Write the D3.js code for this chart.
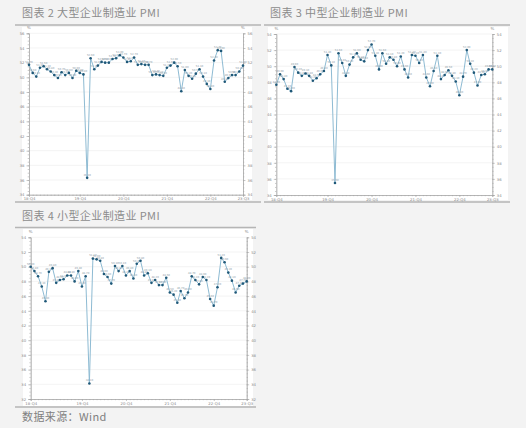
<!DOCTYPE html>
<html>
<head>
<meta charset="utf-8">
<script src="https://cdn.jsdelivr.net/npm/d3@7"></script>
<style>
body { margin: 0; background: #f3f3f3; }
svg { display: block; }
</style>
</head>
<body>
<svg id="chart" width="526" height="428"></svg>
<script>
// months from 2018-10 to 2023-09
var startMonth = new Date(2018, 9, 1),
    endMonth = new Date(2023, 8, 1),
    months = d3.timeMonth.range(startMonth, d3.timeMonth.offset(endMonth, 1));

var tickMonths = [new Date(2018, 9, 1), new Date(2019, 11, 1), new Date(2020, 11, 1),
                  new Date(2021, 11, 1), new Date(2022, 11, 1), new Date(2023, 8, 1)];
var tickLabels = ['18-Q4', '19-Q4', '20-Q4', '21-Q4', '22-Q4', '23-Q3'];

var largePMI = [51.7, 50.6, 50.1, 51.3, 51.5, 51.1, 50.8, 50.3, 49.9, 50.7, 50.3, 50.6, 49.9, 50.9, 50.6,
                50.4, 36.3, 52.6, 51.1, 51.6, 52.1, 52.0, 52.0, 52.5, 52.6, 53.0, 52.7, 52.1, 52.2, 52.7,
                51.7, 51.8, 51.7, 51.7, 50.3, 50.4, 50.3, 50.2, 51.3, 51.6, 52.0, 51.5, 48.1, 51.0, 50.2,
                49.8, 50.5, 51.1, 50.1, 49.1, 48.4, 52.3, 53.7, 53.6, 49.4, 49.9, 50.3, 50.3, 50.8, 51.6];

var mediumPMI = [47.7, 49.0, 48.4, 47.2, 46.9, 49.9, 49.2, 48.8, 49.1, 48.8, 48.2, 48.5, 49.0, 49.4, 51.4,
                 50.1, 35.5, 51.6, 50.4, 48.8, 50.2, 51.1, 51.6, 50.8, 50.6, 52.0, 52.7, 51.3, 49.6, 51.6,
                 50.3, 51.1, 50.8, 50.0, 51.2, 49.6, 48.6, 51.4, 51.3, 50.4, 51.4, 48.6, 47.5, 49.4, 51.3,
                 48.4, 48.9, 49.5, 48.8, 48.1, 46.4, 48.7, 52.0, 50.3, 49.2, 47.6, 48.9, 49.0, 49.6, 49.6];

var smallPMI = [50.0, 49.4, 48.7, 47.3, 45.3, 49.3, 49.8, 47.8, 48.2, 48.3, 48.8, 48.8, 48.0, 49.4, 47.3,
                48.7, 34.1, 51.1, 51.0, 50.8, 49.0, 48.6, 47.7, 50.1, 49.4, 50.1, 48.8, 49.4, 48.4, 50.4,
                50.8, 48.8, 49.1, 47.8, 48.2, 47.5, 47.5, 48.5, 46.5, 46.2, 45.1, 46.7, 45.7, 46.5, 48.7,
                48.2, 47.6, 48.6, 48.2, 45.6, 44.7, 47.2, 51.2, 50.6, 49.2, 48.1, 46.5, 47.4, 47.7, 48.0];

var panels = [
  {title: '图表 2 大型企业制造业 PMI', values: largePMI, yDomain: [34, 56],
   titleX: 22, titleY: 17, sepX: [15, 261], sepTop: 25, sepBottom: 202,
   box: {x: 22, y: 27, w: 230, h: 173}, plot: {l: 29, r: 243, t: 33.3, b: 194.7}},
  {title: '图表 3 中型企业制造业 PMI', values: mediumPMI, yDomain: [34, 54],
   titleX: 270, titleY: 17, sepX: [264, 510], sepTop: 25, sepBottom: 202,
   box: {x: 268, y: 27, w: 240, h: 173}, plot: {l: 276.3, r: 492.3, t: 34, b: 195}},
  {title: '图表 4 小型企业制造业 PMI', values: smallPMI, yDomain: [32, 54],
   titleX: 22, titleY: 219.5, sepX: [15, 256], sepTop: 227.5, sepBottom: 407,
   box: {x: 23, y: 229, w: 230, h: 177}, plot: {l: 30.7, r: 246.7, t: 237.3, b: 399}}
];

var svg = d3.select('#chart');
var cjk = '"Noto Sans CJK SC", "DejaVu Sans", sans-serif';

panels.forEach(drawPanel);

svg.append('text')
  .attr('x', 22).attr('y', 420.5)
  .attr('font-family', cjk).attr('font-size', 11).attr('fill', '#808080')
  .attr('letter-spacing', 0.4)
  .text('数据来源：Wind');

function drawPanel(p) {
  var g = svg.append('g');

  g.append('text')
    .attr('x', p.titleX).attr('y', p.titleY)
    .attr('font-family', cjk).attr('font-size', 11).attr('fill', '#8c8c8c')
    .attr('letter-spacing', 0.4)
    .text(p.title);

  [p.sepTop, p.sepBottom].forEach(function(yy) {
    g.append('line')
      .attr('x1', p.sepX[0]).attr('x2', p.sepX[1])
      .attr('y1', yy).attr('y2', yy)
      .attr('stroke', '#b5b5b5').attr('stroke-width', 1.3);
  });

  g.append('rect')
    .attr('x', p.box.x).attr('y', p.box.y)
    .attr('width', p.box.w).attr('height', p.box.h)
    .attr('fill', '#fff');

  var x = d3.scaleTime().domain([startMonth, endMonth]).range([p.plot.l, p.plot.r]);
  var y = d3.scaleLinear().domain(p.yDomain).range([p.plot.b, p.plot.t]);

  var majors = d3.range(p.yDomain[0], p.yDomain[1] + 0.01, 2);
  var minors = d3.range(p.yDomain[0], p.yDomain[1] + 0.01, 0.5);

  // gridlines
  g.append('g').selectAll('line').data(majors.slice(1)).enter().append('line')
    .attr('x1', p.plot.l).attr('x2', p.plot.r)
    .attr('y1', d => y(d)).attr('y2', d => y(d))
    .attr('stroke', '#ebebeb').attr('stroke-width', 0.6);

  // left and right axes
  var axisL = d3.axisLeft(y).tickValues(majors).tickSize(2.5).tickPadding(2).tickFormat(d3.format('d'));
  var axisR = d3.axisRight(y).tickValues(majors).tickSize(2.5).tickPadding(2).tickFormat(d3.format('d'));
  var minorL = d3.axisLeft(y).tickValues(minors).tickSize(1.3).tickFormat('');
  var minorR = d3.axisRight(y).tickValues(minors).tickSize(1.3).tickFormat('');

  [[axisL, p.plot.l], [minorL, p.plot.l], [axisR, p.plot.r], [minorR, p.plot.r]].forEach(function(a) {
    g.append('g').attr('class', 'axis').attr('transform', `translate(${a[1]},0)`).call(a[0]);
  });

  var axisB = d3.axisBottom(x).tickValues(tickMonths).tickSize(2)
    .tickPadding(1).tickFormat((d, i) => tickLabels[i]);
  var minorB = d3.axisBottom(x).tickValues(months).tickSize(1.2).tickFormat('');
  g.append('g').attr('class', 'axis').attr('transform', `translate(0,${p.plot.b})`).call(minorB);
  g.append('g').attr('class', 'axis').attr('transform', `translate(0,${p.plot.b})`).call(axisB);

  g.selectAll('.axis path, .axis line').attr('stroke', '#a8a8a8').attr('stroke-width', 0.6);
  g.selectAll('.axis text').attr('font-size', 3.8).attr('fill', '#888')
    .attr('font-family', '"DejaVu Sans", sans-serif');

  // % units
  [p.plot.l, p.plot.r].forEach(function(xx) {
    g.append('text').attr('x', xx).attr('y', p.plot.t - 4)
      .attr('text-anchor', 'middle').attr('font-size', 4).attr('fill', '#888')
      .attr('font-family', '"DejaVu Sans", sans-serif').text('%');
  });

  var pts = p.values.map((v, i) => ({date: months[i], value: v}));

  var line = d3.line().x(d => x(d.date)).y(d => y(d.value));

  g.append('path').datum(pts)
    .attr('d', line)
    .attr('fill', 'none')
    .attr('stroke', '#8ebbd3')
    .attr('stroke-width', 1);

  // tiny value labels, as in the original (they crowd each other there too)
  g.append('g').selectAll('text').data(pts).enter().append('text')
    .attr('x', d => x(d.date)).attr('y', d => y(d.value) - 2.2)
    .attr('text-anchor', 'middle')
    .attr('font-size', 2.6)
    .attr('font-family', '"DejaVu Sans", sans-serif')
    .attr('fill', '#8a9aa6')
    .text(d => d.value.toFixed(2));

  g.append('g').selectAll('circle').data(pts).enter().append('circle')
    .attr('cx', d => x(d.date)).attr('cy', d => y(d.value))
    .attr('r', 1.3)
    .attr('fill', '#1f5878');
}
</script>
</body>
</html>
